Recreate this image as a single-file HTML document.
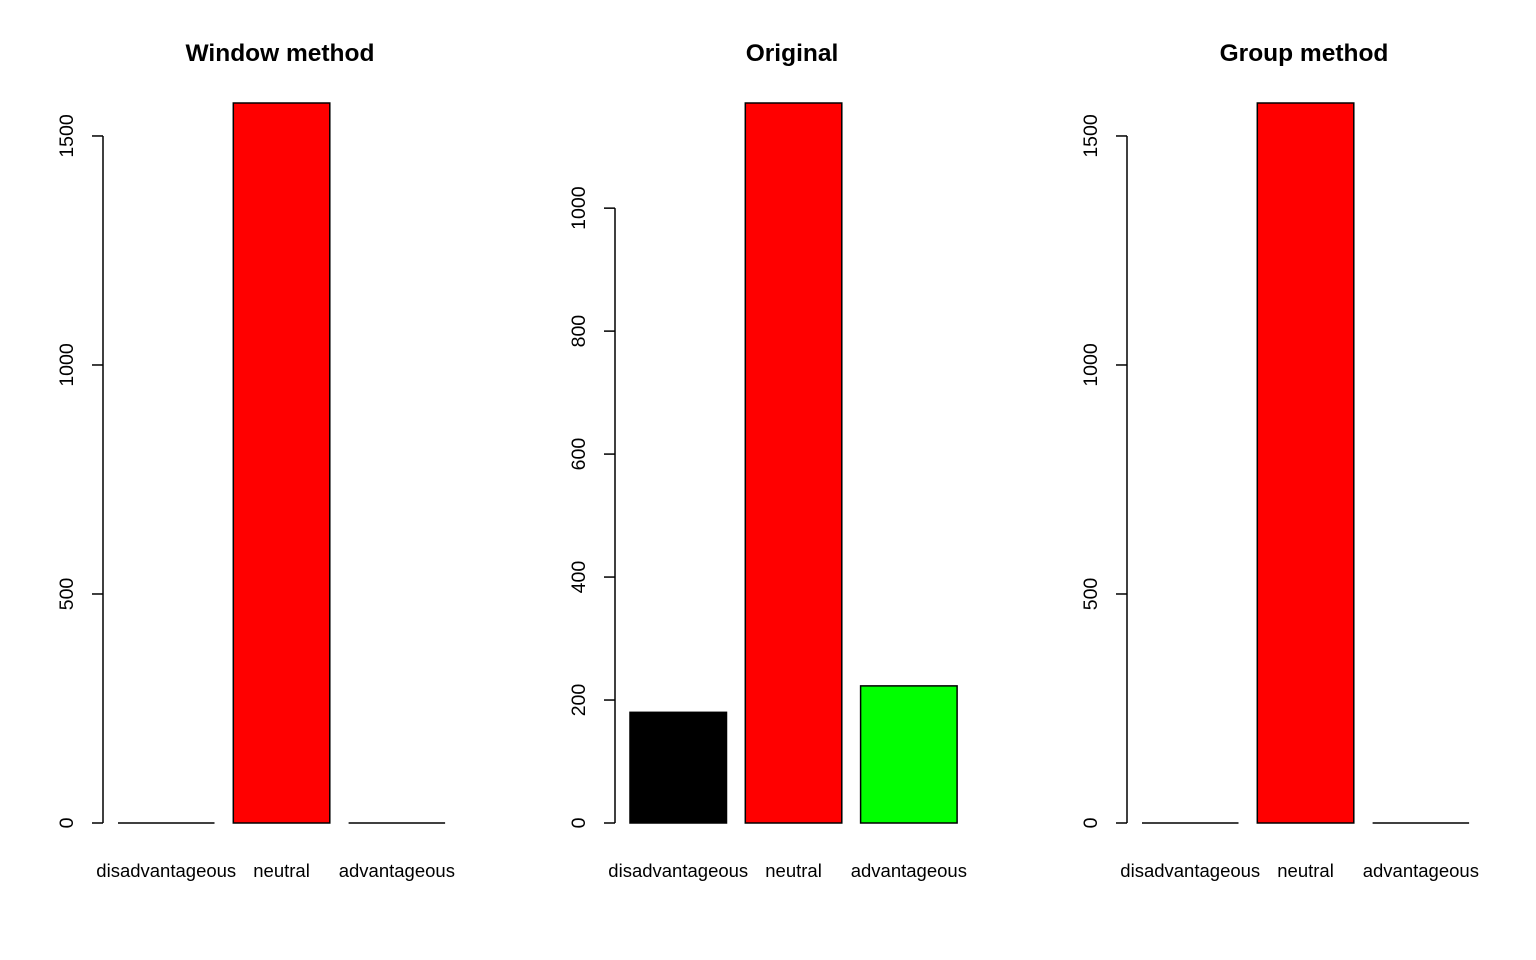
<!DOCTYPE html>
<html><head><meta charset="utf-8"><style>
body{margin:0;background:#fff}
svg{display:block;font-family:"Liberation Sans",Arial,sans-serif}
</style></head><body>
<svg id="c" width="1536" height="960"></svg>
<script>
const categories=["disadvantageous","neutral","advantageous"];
const colors=["#000000","#ff0000","#00ff00"];
const titles=["Window method","Original","Group method"];
const windowValues=[0,1572,0];
const originalValues=[180,1171,223];
const groupValues=[0,1572,0];
const windowTicks=[0,500,1000,1500];
const originalTicks=[0,200,400,600,800,1000];
const groupTicks=[0,500,1000,1500];
const panelsData=[windowValues,originalValues,groupValues];
const panelsTicks=[windowTicks,originalTicks,groupTicks];
const NS="http://www.w3.org/2000/svg";
const svg=document.getElementById('c');
function mk(tag,attrs,parent){const e=document.createElementNS(NS,tag);for(const k in attrs)e.setAttribute(k,attrs[k]);parent.appendChild(e);return e;}
const axisX=[103,615,1127];
const y0=823, yTopPx=103;
for(let p=0;p<3;p++){
  const vals=panelsData[p], ticks=panelsTicks[p];
  const maxV=Math.max(...vals);
  const yScale=v=>y0-(v/maxV)*(y0-yTopPx);
  const ax=axisX[p];
  const g=mk('g',{},svg);
  
  
  const t=mk('text',{x:ax+177,y:61,'text-anchor':'middle','font-size':'24.5','font-weight':'bold'},g);
  t.textContent=titles[p];
  
  
  const al=mk('line',{x1:ax,x2:ax,y1:yScale(ticks[0]),y2:yScale(ticks[ticks.length-1]),stroke:'#000','stroke-width':1.5},g);
  
  
  ticks.forEach(v=>{
    const y=yScale(v);
    const tl=mk('line',{x1:ax-11,x2:ax,y1:y,y2:y,stroke:'#000','stroke-width':1.5},g);
    
    
    const tx=mk('text',{x:0,y:0,'text-anchor':'middle','font-size':'19.5',transform:`translate(${ax-30},${y}) rotate(-90)`},g);
    tx.textContent=v;
    
    
  });
  categories.forEach((c,i)=>{
    const x=ax+15+i*115.3, w=96.5;
    const yt=yScale(vals[i]);
    let r;
    if(y0-yt<1){
      r=mk('line',{x1:x,x2:x+w,y1:y0,y2:y0,stroke:'#000','stroke-width':1.5},g);
    } else {
      r=mk('rect',{x:x,y:yt,width:w,height:y0-yt,fill:colors[i],stroke:'#000','stroke-width':1.5},g);
    }
    
    
    const lb=mk('text',{x:x+w/2,y:877,'text-anchor':'middle','font-size':'18.5'},g);
    lb.textContent=c;
    
    
  });
}
</script>
</body></html>
